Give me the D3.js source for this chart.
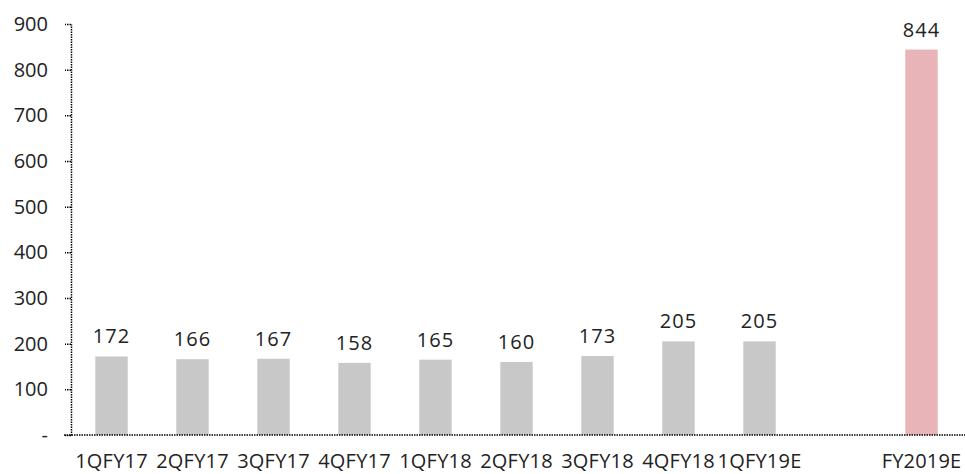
<!DOCTYPE html>
<html><head><meta charset="utf-8">
<script src="https://cdn.jsdelivr.net/npm/d3@7"></script>
<style>body{margin:0;background:#fff}svg{display:block}</style>
</head><body>
<svg id="c" width="965" height="474"></svg>
<script>
const categories = ["1QFY17","2QFY17","3QFY17","4QFY17","1QFY18","2QFY18","3QFY18","4QFY18","1QFY19E","gap","FY2019E"];
const values = [172,166,167,158,165,160,173,205,205,null,844];
const highlight = ["FY2019E"];
const yTicks = [0,100,200,300,400,500,600,700,800,900];
const yTickLabels = ["-","100","200","300","400","500","600","700","800","900"];

const svg = d3.select("#c");
const font = "'Open Sans', 'Noto Sans', sans-serif";
const x = d3.scaleBand().domain(categories).range([71, 962]).paddingInner(0.6).paddingOuter(0.3);
const y = d3.scaleLinear().domain([0, 900]).range([435, 24]);

const data = categories.map((c,i)=>({c, v: values[i]})).filter(d=>d.v!=null);

svg.append("g").selectAll("rect").data(data).join("rect")
  .attr("x", d=>x(d.c)).attr("width", x.bandwidth())
  .attr("y", d=>y(d.v)).attr("height", d=>y(0)-y(d.v))
  .attr("fill", d=>highlight.includes(d.c) ? "#e8b4b7" : "#c8c8c8");

svg.append("g").selectAll("text").data(data).join("text")
  .attr("x", d=>x(d.c)+x.bandwidth()/2).attr("y", d=>y(d.v)-13)
  .attr("text-anchor","middle").attr("font-family",font).attr("font-size",20)
  .attr("letter-spacing","1px").attr("fill","#222").text(d=>d.v);

// y axis
const yAxis = d3.axisLeft(y).tickValues(yTicks).tickFormat((d,i)=>yTickLabels[i]).tickSize(6).tickSizeOuter(0);
const gy = svg.append("g").attr("transform","translate(71,0)").call(yAxis);
gy.select(".domain").attr("stroke","#000").attr("stroke-width",1.5).attr("stroke-dasharray","1.5,1");
gy.selectAll(".tick line").attr("stroke","#000").attr("stroke-width",1.5).attr("stroke-dasharray","1.5,1");
gy.selectAll(".tick text").attr("x",-23).attr("font-family",font).attr("font-size",20).attr("fill","#222");

// x axis
const xAxis = d3.axisBottom(x).tickSize(0).tickFormat(d=> d==="gap" ? "" : d);
const gx = svg.append("g").attr("transform","translate(0,435)").call(xAxis);
gx.select(".domain").remove();
gx.append("line").attr("x1",64).attr("x2",965).attr("y1",0).attr("y2",0)
  .attr("stroke","#000").attr("stroke-width",1.5).attr("stroke-dasharray","1.5,1");
gx.selectAll(".tick text").attr("y",19).attr("dy","0.71em").attr("font-family",font).attr("font-size",20)
  .attr("letter-spacing","0.2px").attr("fill","#222");
</script>
</body></html>
